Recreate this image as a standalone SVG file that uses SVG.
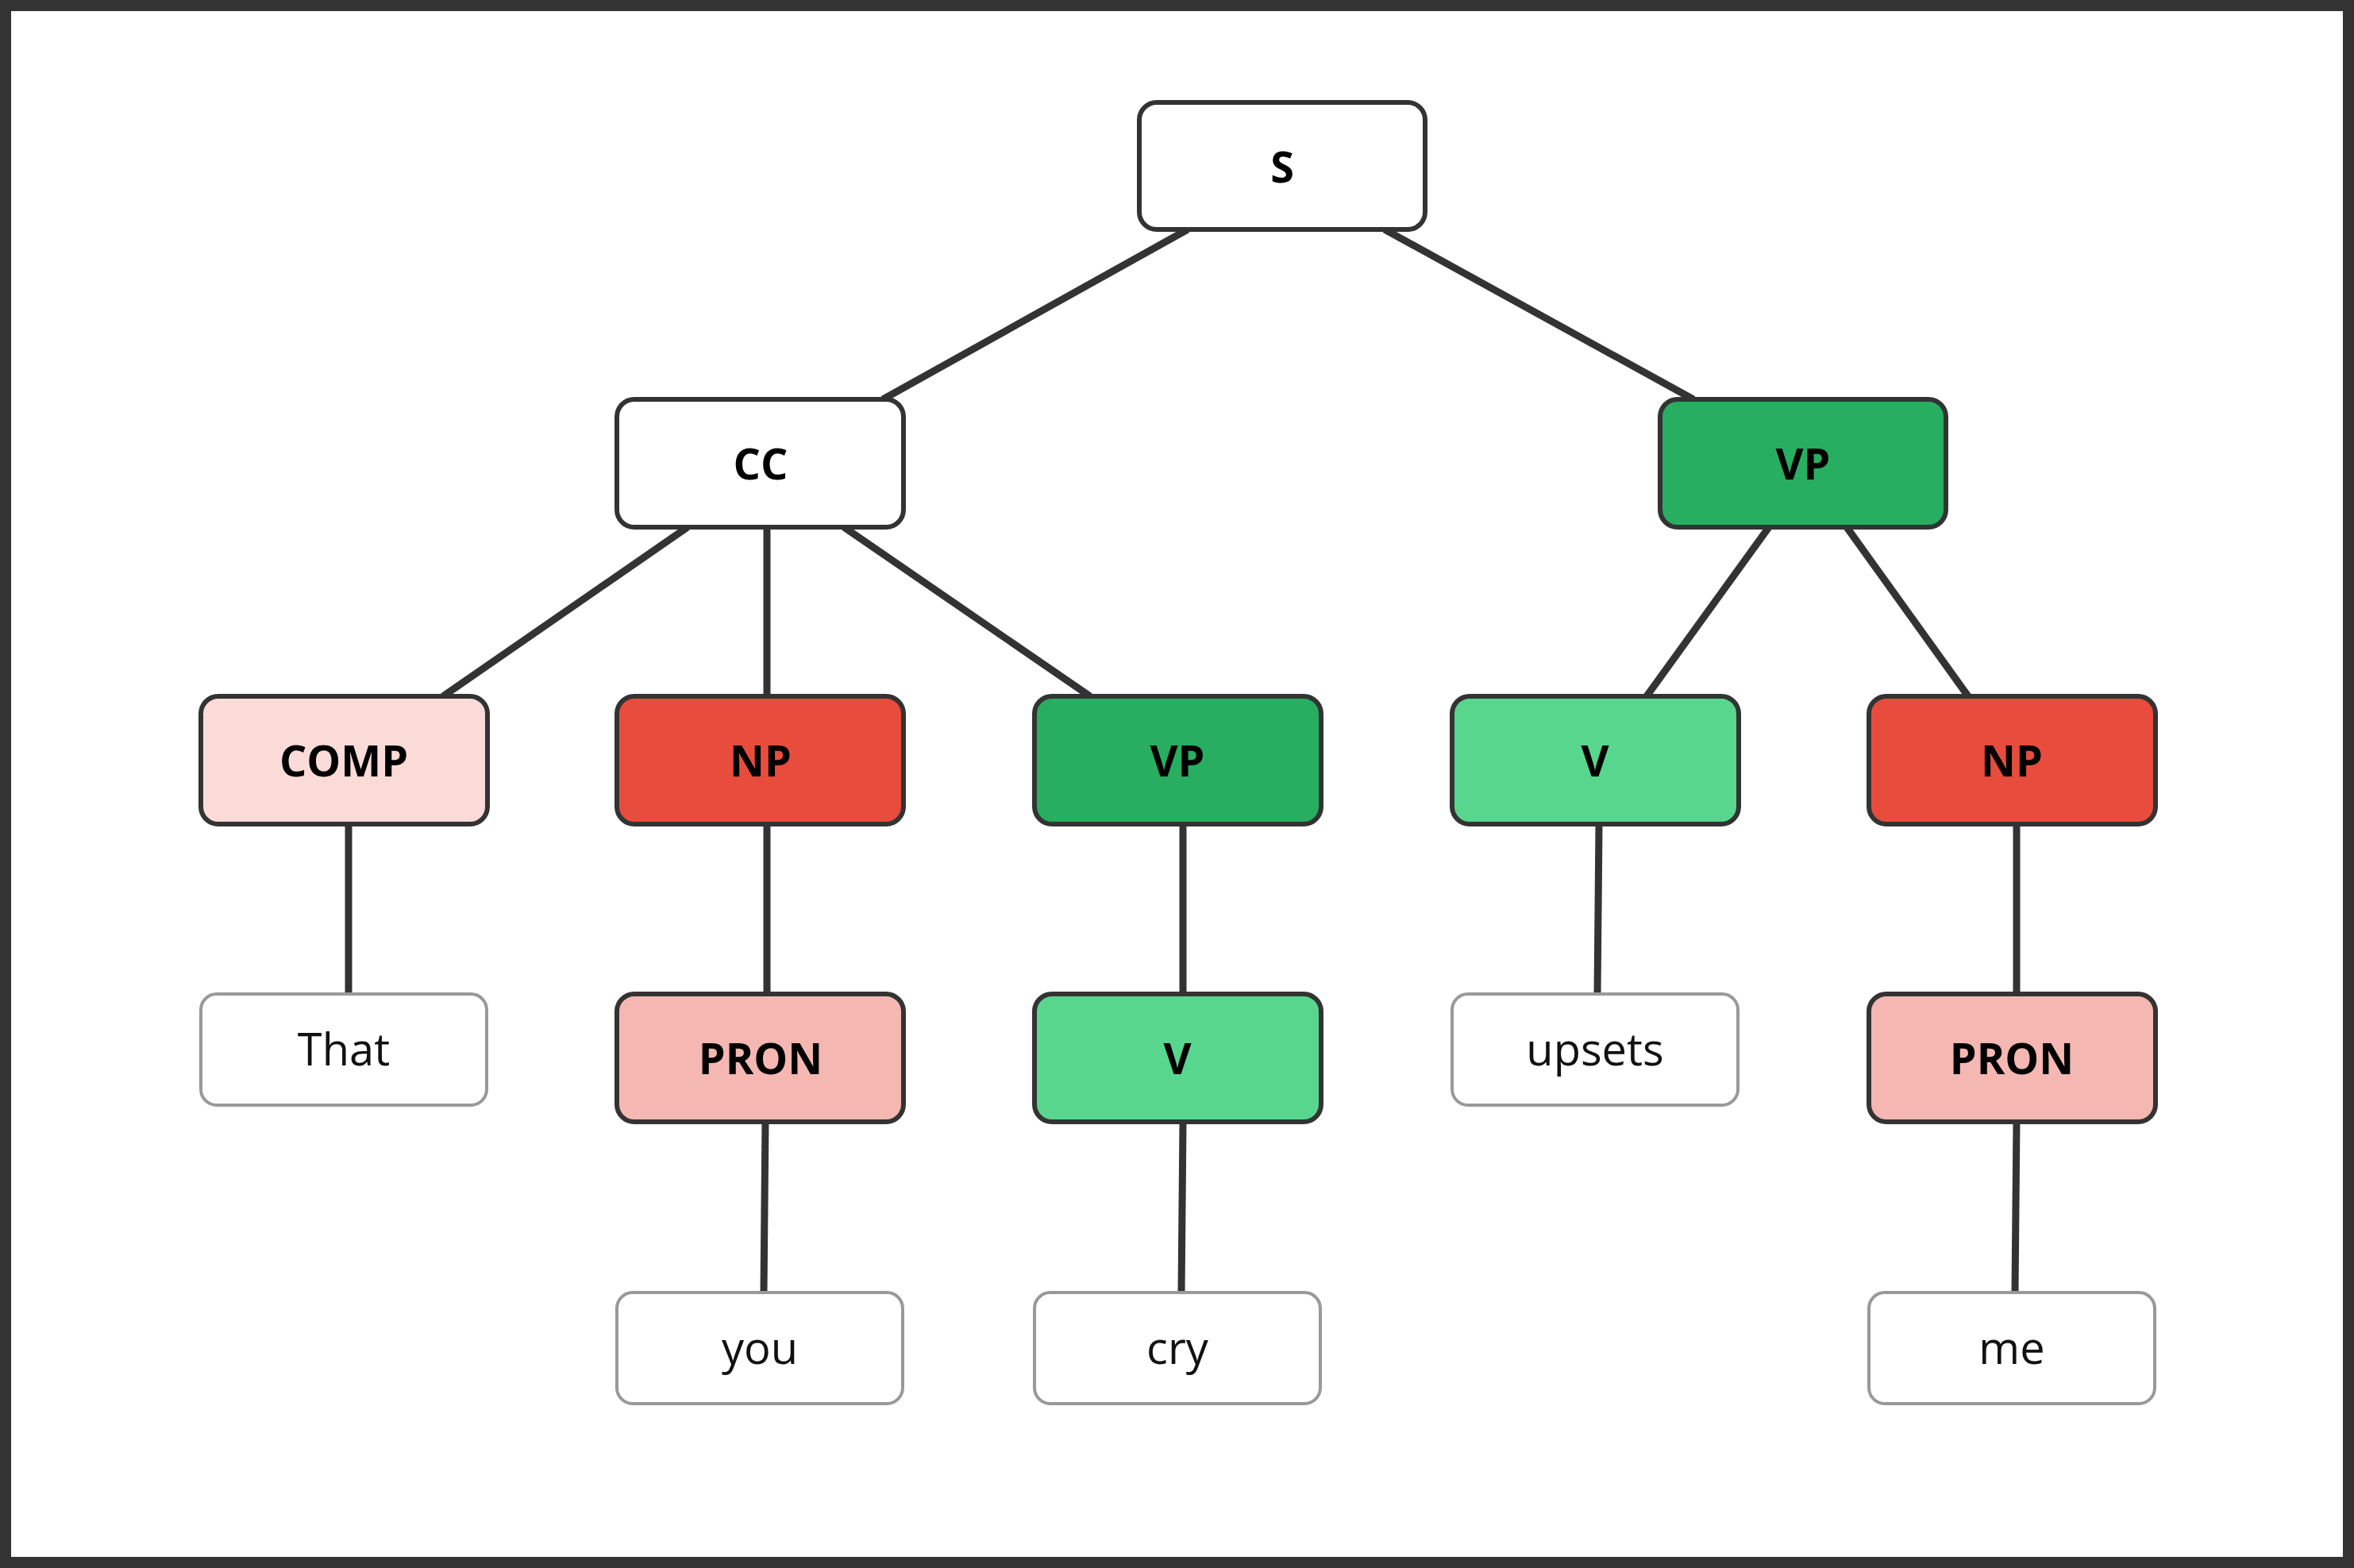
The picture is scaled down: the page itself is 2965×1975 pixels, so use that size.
<svg xmlns="http://www.w3.org/2000/svg" width="2965" height="1975" viewBox="0 0 2965 1975">
<style>
.n{stroke:#333;stroke-width:6}
.l{fill:#fff;stroke:#999;stroke-width:4}
.t{font-family:"Open Sans","Noto Sans",sans-serif;font-size:54px;font-weight:bold;text-anchor:middle;dominant-baseline:central;fill:#000}
.w{font-family:"Open Sans","Noto Sans",sans-serif;font-size:56px;text-anchor:middle;dominant-baseline:central;fill:#111}
#edges line{stroke:#333;stroke-width:9}
</style>
<rect x="0" y="0" width="2965" height="1975" fill="#fff"/>
<rect x="7" y="7" width="2951" height="1961" fill="none" stroke="#333" stroke-width="14"/>
<g id="edges">
<line x1="1496" y1="289" x2="1112" y2="503"/>
<line x1="1744" y1="289" x2="2133" y2="503"/>
<line x1="866" y1="664" x2="558" y2="877"/>
<line x1="966" y1="664" x2="966" y2="877"/>
<line x1="1063" y1="664" x2="1373" y2="877"/>
<line x1="2228" y1="664" x2="2074" y2="877"/>
<line x1="2326" y1="664" x2="2479" y2="877"/>
<line x1="439" y1="1038" x2="439" y2="1252"/>
<line x1="966" y1="1038" x2="966" y2="1252"/>
<line x1="1490" y1="1038" x2="1490" y2="1252"/>
<line x1="2014" y1="1038" x2="2012" y2="1252"/>
<line x1="2540" y1="1038" x2="2540" y2="1252"/>
<line x1="964" y1="1413" x2="962" y2="1628"/>
<line x1="1490" y1="1413" x2="1488" y2="1628"/>
<line x1="2540" y1="1413" x2="2538" y2="1628"/>
</g>
<g id="S"><rect class="n" x="1435" y="129" width="360" height="160" rx="22" fill="#fff"/><text class="t" x="1615" y="209">S</text></g>
<g id="CC"><rect class="n" x="777" y="503" width="361" height="161" rx="22" fill="#fff"/><text class="t" x="958" y="583">CC</text></g>
<g id="VP1"><rect class="n" x="2091" y="503" width="360" height="161" rx="22" fill="#27ae60"/><text class="t" x="2271" y="583">VP</text></g>
<g id="COMP"><rect class="n" x="253" y="877" width="361" height="161" rx="22" fill="#fadbd8"/><text class="t" x="433" y="957">COMP</text></g>
<g id="NP1"><rect class="n" x="777" y="877" width="361" height="161" rx="22" fill="#e74c3c"/><text class="t" x="958" y="957">NP</text></g>
<g id="VP2"><rect class="n" x="1303" y="877" width="361" height="161" rx="22" fill="#27ae60"/><text class="t" x="1483" y="957">VP</text></g>
<g id="V1"><rect class="n" x="1829" y="877" width="361" height="161" rx="22" fill="#58d68d"/><text class="t" x="2009" y="957">V</text></g>
<g id="NP2"><rect class="n" x="2354" y="877" width="361" height="161" rx="22" fill="#e74c3c"/><text class="t" x="2534" y="957">NP</text></g>
<g id="That"><rect class="l" x="253" y="1252" width="360" height="140" rx="20"/><text class="w" x="433" y="1320">That</text></g>
<g id="PRON1"><rect class="n" x="777" y="1252" width="361" height="161" rx="22" fill="#f5b7b1"/><text class="t" x="958" y="1332">PRON</text></g>
<g id="V2"><rect class="n" x="1303" y="1252" width="361" height="161" rx="22" fill="#58d68d"/><text class="t" x="1483" y="1332">V</text></g>
<g id="upsets"><rect class="l" x="1829" y="1252" width="360" height="140" rx="20"/><text class="w" x="2009" y="1320">upsets</text></g>
<g id="PRON2"><rect class="n" x="2354" y="1252" width="361" height="161" rx="22" fill="#f5b7b1"/><text class="t" x="2534" y="1332">PRON</text></g>
<g id="you"><rect class="l" x="777" y="1628" width="360" height="140" rx="20"/><text class="w" x="957" y="1696">you</text></g>
<g id="cry"><rect class="l" x="1303" y="1628" width="360" height="140" rx="20"/><text class="w" x="1483" y="1696">cry</text></g>
<g id="me"><rect class="l" x="2354" y="1628" width="360" height="140" rx="20"/><text class="w" x="2534" y="1696">me</text></g>
</svg>
